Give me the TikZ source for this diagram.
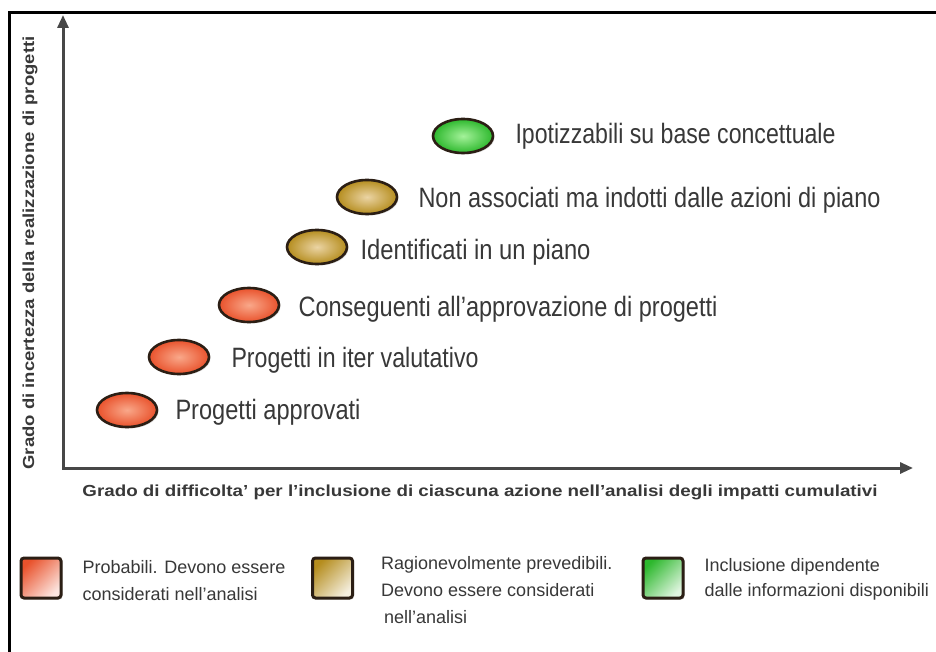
\documentclass[tikz,border=0pt]{standalone}
\usepackage{fontspec}
\setmainfont{Liberation Sans}
\usetikzlibrary{shapes.geometric,arrows.meta,shadows,calc}
\definecolor{redO}{HTML}{E9522C}
\definecolor{redI}{HTML}{F9A88A}
\definecolor{tanO}{HTML}{B58D1E}
\definecolor{tanI}{HTML}{EBD4A4}
\definecolor{grnO}{HTML}{2DB82D}
\definecolor{grnI}{HTML}{A4F29A}
\definecolor{edgec}{HTML}{2B1E14}
\definecolor{txt}{HTML}{383838}
\definecolor{axisc}{HTML}{474747}
\tikzset{
 ell/.style={ellipse, draw=edgec, line width=2.6pt, minimum width=60pt, minimum height=34pt, inner sep=0pt,
   drop shadow={shadow xshift=1.5pt, shadow yshift=-1.5pt, opacity=0.25}},
 redell/.style={ell, inner color=redI, outer color=redO},
 tanell/.style={ell, inner color=tanI, outer color=tanO},
 grnell/.style={ell, inner color=grnI, outer color=grnO},
 lbl/.style={anchor=west, inner sep=0pt, text=txt, font=\fontsize{28}{32}\selectfont},
 legbox/.style={draw=edgec, line width=3pt, rounded corners=3pt, minimum width=40pt, minimum height=40pt, inner sep=0pt,
   drop shadow={shadow xshift=1.5pt, shadow yshift=-1.5pt, opacity=0.25}},
 legfill/.style={left color=#1, right color=#1!15!white, shading angle=45},
 legtxt/.style={anchor=north west, inner sep=0pt, text=txt, align=left},
 axisline/.style={draw=axisc, line width=3pt, line join=miter},
 axlbl/.style={inner sep=0pt, text=txt, font=\fontsize{16}{18}\selectfont\bfseries},
}
\begin{document}
\begin{tikzpicture}[x=1pt,y=-1pt]
\useasboundingbox (0,0) rectangle (936,652);
\fill[white] (0,0) rectangle (936,652);
% frame
\coordinate (fbl) at (9,654);
\coordinate (ftl) at (9,13);
\coordinate (ftr) at (938,13);
\draw[line width=3pt, line join=miter] (fbl) -- (ftl) -- (ftr);
% axes
\coordinate (O) at (63,468);
\coordinate (ytop) at (63,15);
\coordinate (xend) at (913,468);
\draw[axisline, {Triangle[length=13pt,width=11pt]}-{Triangle[length=13pt,width=11pt]}] (ytop) -- (O) -- (xend);
\node[axlbl] (xl) at (480,492) {\resizebox{795pt}{\height}{Grado di difficolta' per l'inclusione di ciascuna azione nell'analisi degli impatti cumulativi}};
\node[axlbl, rotate=90] (yl) at (30,253) {\resizebox{433pt}{\height}{Grado di incertezza della realizzazione di progetti}};
% ellipses
\node[redell] (e1) at (127,410) {};
\node[redell] (e2) at (179,357) {};
\node[redell] (e3) at (249,305) {};
\node[tanell] (e4) at (317,247) {};
\node[tanell] (e5) at (367,197) {};
\node[grnell] (e6) at (463,136) {};
\node[lbl] (t1) at ($(e1.east)+(17,2)$) {\resizebox{185pt}{\height}{Progetti approvati}};
\node[lbl] (t2) at ($(e2.east)+(21,3)$) {\resizebox{247pt}{\height}{Progetti in iter valutativo}};
\node[lbl] (t3) at ($(e3.east)+(18,4)$) {\resizebox{419pt}{\height}{Conseguenti all'approvazione di progetti}};
\node[lbl] (t4) at ($(e4.east)+(12,5)$) {\resizebox{230pt}{\height}{Identificati in un piano}};
\node[lbl] (t5) at ($(e5.east)+(20,3)$) {\resizebox{462pt}{\height}{Non associati ma indotti dalle azioni di piano}};
\node[lbl] (t6) at ($(e6.east)+(21,0)$) {\resizebox{320pt}{\height}{Ipotizzabili su base concettuale}};
% legend
\node[legbox, legfill=redO] (lr) at (41,578) {};
\node[legbox, legfill=tanO] (lt) at (332.5,578) {};
\node[legbox, legfill=grnO] (lg) at (663,578) {};
\node[legtxt, font=\fontsize{18}{27}\selectfont] (lrt) at ($(lr.north east)+(20,4)$) {Probabili. Devono essere\\considerati nell'analisi};
\node[legtxt, font=\fontsize{18}{27}\selectfont] (ltt) at ($(lt.north east)+(27,0)$) {Ragionevolmente prevedibili.\\Devono essere considerati\\\hspace*{3pt}nell'analisi};
\node[legtxt, font=\fontsize{18}{25}\selectfont] (lgt) at ($(lg.north east)+(20,2)$) {Inclusione dipendente\\dalle informazioni disponibili};
\end{tikzpicture}
\end{document}
